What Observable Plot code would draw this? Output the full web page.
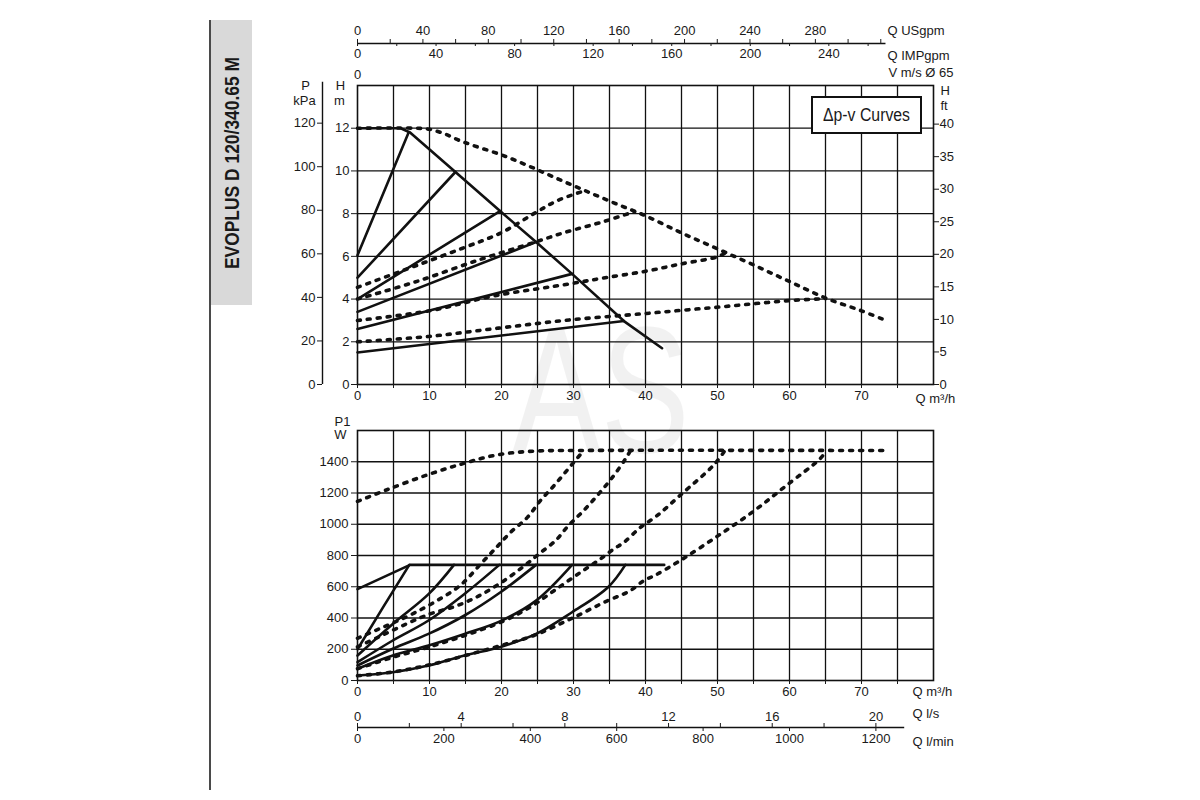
<!DOCTYPE html>
<html>
<head>
<meta charset="utf-8">
<script src="https://cdn.jsdelivr.net/npm/d3@7"></script>
<script src="https://cdn.jsdelivr.net/npm/@observablehq/plot@0.6"></script>
<style>
  body { margin: 0; background: #fff; }
  #wrap { position: relative; width: 1200px; height: 800px; overflow: hidden; font-family: "Liberation Sans", Arial, sans-serif; color: #1a1a1a; }
  #wm { position: absolute; left: 512px; top: 300px; font: 180px "Liberation Sans", Arial, sans-serif; color: rgba(0,0,0,0.055); line-height: 1; transform: scaleX(0.74); transform-origin: 0 0; }
  #sideline { position: absolute; left: 209px; top: 20px; width: 2px; height: 770px; background: #4a4a4a; }
  #titlebox { position: absolute; left: 211px; top: 20px; width: 41px; height: 285px; background: #d9d9d9; overflow: hidden; }
  #title { position: absolute; left: 50%; top: 50%; white-space: nowrap; font: bold 21px "Liberation Sans", Arial, sans-serif; color: #1a1a1a; transform: translate(-50%, -50%) rotate(-90deg) scaleX(0.83); }
  #upper, #lower { position: absolute; left: 0; }
  #upper { top: 0; }
  #lower { top: 400px; }
  .abs { position: absolute; }
</style>
</head>
<body>
<div id="wrap">
  <div id="wm">AS</div>
  <div id="sideline"></div>
  <div id="titlebox"><div id="title">EVOPLUS D 120/340.65 M</div></div>
  <div id="upper"></div>
  <div id="lower"></div>
  <svg class="abs" style="left:810px;top:95px" width="114" height="40">
    <rect x="2" y="2" width="109" height="36" fill="#fff" stroke="#111" stroke-width="2"></rect>
    <text x="56.5" y="26" text-anchor="middle" font-family="Liberation Sans, Arial, sans-serif"
          font-size="18" fill="#1a1a1a" textLength="87" lengthAdjust="spacingAndGlyphs">Δp-v Curves</text>
  </svg>
</div>
<script>
// ---- unit conversions (secondary axes) ----
const KPA_PER_M = 9.80665, M_PER_FT = 0.3048;
const M3H_PER_USGPM = 0.227125, M3H_PER_IMPGPM = 0.272765;
const M3H_PER_LS = 3.6, M3H_PER_LMIN = 0.06;

// ---- tick values ----
const flowTicks = [0, 5, 10, 15, 20, 25, 30, 35, 40, 45, 50, 55, 60, 65, 70, 75];
const flowLabels = [0, 10, 20, 30, 40, 50, 60, 70];
const flowGrid = [5, 10, 15, 20, 25, 30, 35, 40, 45, 50, 55, 60, 65, 70, 75];
const headTicks = [0, 2, 4, 6, 8, 10, 12];
const headGrid = [2, 4, 6, 8, 10, 12];
const kPaTicks = [0, 20, 40, 60, 80, 100, 120];
const ftTicks = [0, 5, 10, 15, 20, 25, 30, 35, 40];
const usgpmTicks = [0, 20, 40, 60, 80, 100, 120, 140, 160, 180, 200, 220, 240, 260, 280, 300, 320];
const usgpmLabels = [0, 40, 80, 120, 160, 200, 240, 280];
const impgpmTicks = [0, 20, 40, 60, 80, 100, 120, 140, 160, 180, 200, 220, 240, 260];
const impgpmLabels = [0, 40, 80, 120, 160, 200, 240];
const velocityLabels = [0];
const powerTicks = [0, 200, 400, 600, 800, 1000, 1200, 1400];
const powerGrid = [200, 400, 600, 800, 1000, 1200, 1400];
const lsTicks = [0, 2, 4, 6, 8, 10, 12, 14, 16, 18, 20];
const lsLabels = [0, 4, 8, 12, 16, 20];
const lminTicks = [0, 200, 400, 600, 800, 1000, 1200];

// ---- Δp-v head curves: [Q m³/h, H m] ----
const headMaxSolid = [[0, 12], [6, 12], [7.3, 11.8], [13.6, 9.95], [19.8, 8.12], [24.8, 6.67], [29.8, 5.18], [37, 2.97], [42.3, 1.7]];
const headSolid1 = [[0, 6.05], [7.1, 11.8]];
const headSolid2 = [[0, 5.0], [13.6, 9.95]];
const headSolid3 = [[0, 4.0], [19.8, 8.12]];
const headSolid4 = [[0, 3.4], [24.8, 6.67]];
const headSolid5 = [[0, 2.6], [29.8, 5.18]];
const headSolid6 = [[0, 1.5], [37, 2.97]];
const headMaxDotted = [[0, 12], [8, 12], [10, 11.95], [12, 11.75], [14, 11.45], [16, 11.2], [20, 10.75], [24, 10.2], [28, 9.6], [32, 9.02], [36, 8.45], [40, 7.9], [45, 7.1], [50, 6.35], [55, 5.6], [60, 4.82], [65, 4.05], [70, 3.45], [73, 3.05]];
const headDotted1 = [[0, 4.55], [6, 5.3], [14.5, 6.37], [20.1, 7.13], [24.5, 8.0], [27.7, 8.6], [31.7, 9.09]];
const headDotted2 = [[0, 4.0], [8, 4.8], [17, 5.85], [24.5, 6.65], [28.6, 7.1], [34.4, 7.65], [38.5, 8.1]];
const headDotted3 = [[0, 3.0], [10, 3.45], [19, 4.15], [29.6, 4.72], [34.4, 5.0], [40, 5.3], [45, 5.65], [50, 5.98], [51.3, 6.2]];
const headDotted4 = [[0, 2.0], [9.9, 2.25], [19.6, 2.64], [29.6, 3.03], [39.5, 3.31], [44.9, 3.47], [50, 3.62], [55, 3.78], [60, 3.93], [65, 4.02]];

// ---- P1 power curves: [Q m³/h, W] ----
const powerMaxSolid = [[0, 585], [7.3, 740], [42.6, 740]];
const powerSolid1 = [[0, 200], [3.5, 465], [7.2, 740]];
const powerSolid2 = [[0, 160], [4.9, 362], [9.9, 554], [13.4, 740]];
const powerSolid3 = [[0, 117], [4.9, 256], [9.86, 384], [14.86, 554], [19.7, 740]];
const powerSolid4 = [[0, 96], [4.9, 203], [9.86, 298], [14.86, 416], [19.86, 565], [24.8, 740]];
const powerSolid5 = [[0, 75], [4.9, 160], [9.86, 224], [14.86, 298], [19.86, 380], [24.8, 511], [29.8, 740]];
const powerSolid6 = [[0, 32], [4.9, 53], [9.86, 96], [14.86, 160], [19.86, 215], [24.8, 298], [29.8, 437], [34.8, 597], [37.2, 740]];
const powerMaxDotted = [[0, 1146], [4.1, 1221], [9.7, 1316], [14.8, 1390], [19.4, 1444], [24.5, 1468], [30, 1472], [73, 1472]];
const powerDotted1 = [[0, 270], [2.5, 320], [5, 370], [7.8, 430], [11, 510], [14.3, 610], [17.3, 755], [19.4, 857], [21.25, 948], [23.6, 1044], [25.4, 1151], [27.5, 1258], [30.3, 1411], [31.4, 1470]];
const powerDotted2 = [[0, 215], [3, 280], [6.7, 360], [10, 425], [13.6, 475], [16.8, 540], [19.9, 625], [22.9, 724], [25.2, 810], [27.5, 895], [29.3, 991], [31.4, 1087], [33.5, 1194], [35.4, 1300], [37.2, 1417], [37.9, 1470]];
const powerDotted3 = [[0, 75], [5, 150], [10, 215], [15, 290], [20, 375], [24, 470], [27.3, 575], [31, 693], [33.5, 770], [35.6, 842], [37, 884], [39.3, 980], [41.6, 1055], [44.9, 1189], [49.5, 1380], [51, 1470]];
const powerDotted4 = [[0, 30], [5, 55], [10, 100], [15, 160], [20, 225], [24.5, 288], [29.6, 394], [34.7, 510], [37.7, 570], [39.8, 640], [41.4, 675], [44.9, 770], [50, 924], [55, 1083], [59.4, 1242], [64.3, 1422], [65.1, 1470]];

// ---- helpers ----
const table = (series) => series.flatMap(([id, pts]) => pts.map(([q, v]) => ({id, q, v})));
const minor = (all, labeled) => all.filter(t => !labeled.includes(t));
const INK = "#111";
const solidStyle = {x: "q", y: "v", z: "id", stroke: INK, strokeWidth: 2.6, strokeLinejoin: "round"};
const dotStyle = {x: "q", y: "v", z: "id", stroke: INK, strokeWidth: 3.6, strokeDasharray: "3 7", curve: "catmull-rom"};
const gridStyle = {stroke: INK, strokeOpacity: 1, strokeWidth: 1.3};
const txt = (s, o) => Plot.text([s], {text: d => d, fill: "#1a1a1a", lineAnchor: "middle", textAnchor: "middle", ...o});
const baseStyle = {background: "transparent", fontFamily: "'Liberation Sans', Arial, sans-serif", fontSize: "13px", color: "#1a1a1a", overflow: "visible"};

const headSolid = table([["max", headMaxSolid], ["s1", headSolid1], ["s2", headSolid2], ["s3", headSolid3], ["s4", headSolid4], ["s5", headSolid5], ["s6", headSolid6]]);
const headDotted = table([["max", headMaxDotted], ["d1", headDotted1], ["d2", headDotted2], ["d3", headDotted3], ["d4", headDotted4]]);
const powerStraight = table([["max", powerMaxSolid], ["p1", powerSolid1]]);
const powerSolid = table([["p2", powerSolid2], ["p3", powerSolid3], ["p4", powerSolid4], ["p5", powerSolid5], ["p6", powerSolid6]]);
const powerDotted = table([["max", powerMaxDotted], ["q1", powerDotted1], ["q2", powerDotted2], ["q3", powerDotted3], ["q4", powerDotted4]]);

// ---- upper chart: head ----
const upper = Plot.plot({
  width: 1200, height: 400,
  marginLeft: 357, marginRight: 267, marginTop: 85, marginBottom: 16,
  x: {domain: [0, 80], axis: null, label: null},
  y: {domain: [0, 14], axis: null, label: null},
  style: baseStyle,
  marks: [
    Plot.gridX(flowGrid, gridStyle),
    Plot.gridY(headGrid, gridStyle),
    Plot.frame({stroke: INK, strokeWidth: 1.6}),
    Plot.axisX(flowLabels, {anchor: "bottom", tickSize: 4, tickPadding: 2, tickFormat: String, label: null}),
    Plot.axisX(minor(flowTicks, flowLabels), {anchor: "bottom", tickSize: 4, fill: "none", label: null}),
    Plot.axisY(headTicks, {anchor: "left", tickSize: 6, tickPadding: 2, tickFormat: String, label: null}),
    Plot.axisY(kPaTicks.map(p => p / KPA_PER_M), {anchor: "left", dx: -35, tickSize: 5, tickPadding: 2, tickFormat: d => String(Math.round(d * KPA_PER_M)), label: null}),
    Plot.ruleX([0], {y1: 0, y2: 14.15, dx: -35, stroke: INK, strokeWidth: 1.4}),
    Plot.axisY(ftTicks.map(f => f * M_PER_FT), {anchor: "right", tickSize: 5, tickPadding: 1, tickFormat: d => String(Math.round(d / M_PER_FT)), label: null}),
    Plot.ruleY([14], {x1: 0, x2: 73.4, dy: -42, stroke: INK, strokeWidth: 1.4}),
    Plot.axisX(usgpmLabels.map(u => u * M3H_PER_USGPM), {anchor: "top", dy: -42, tickSize: 5, tickPadding: 4,
      tickFormat: d => String(Math.round(d / M3H_PER_USGPM)), label: null}),
    Plot.axisX(minor(usgpmTicks, usgpmLabels).map(u => u * M3H_PER_USGPM), {anchor: "top", dy: -42, tickSize: 5, fill: "none", label: null}),
    Plot.axisX(impgpmLabels.map(u => u * M3H_PER_IMPGPM), {anchor: "bottom", dy: -341, tickSize: 3, tickPadding: 2,
      tickFormat: d => String(Math.round(d / M3H_PER_IMPGPM)), label: null}),
    Plot.axisX(minor(impgpmTicks, impgpmLabels).map(u => u * M3H_PER_IMPGPM), {anchor: "bottom", dy: -341, tickSize: 3, fill: "none", label: null}),
    Plot.axisX(velocityLabels, {anchor: "top", dy: -5, tickSize: 0, tickPadding: 2, tickFormat: String, label: null}),
    txt("Q USgpm", {frameAnchor: "top-right", textAnchor: "start", dx: -46, dy: -55}),
    txt("Q IMPgpm", {frameAnchor: "top-right", textAnchor: "start", dx: -46, dy: -30}),
    txt("V m/s Ø 65", {frameAnchor: "top-right", textAnchor: "start", dx: -45, dy: -13}),
    txt("H", {frameAnchor: "top-right", textAnchor: "start", dx: 7, dy: 5}),
    txt("ft", {frameAnchor: "top-right", textAnchor: "start", dx: 7, dy: 20}),
    txt("P", {frameAnchor: "top-left", dx: -52, dy: 0}),
    txt("kPa", {frameAnchor: "top-left", dx: -53, dy: 15}),
    txt("H", {frameAnchor: "top-left", dx: -17, dy: 0}),
    txt("m", {frameAnchor: "top-left", dx: -18, dy: 15}),
    txt("Q m³/h", {frameAnchor: "bottom-right", textAnchor: "start", dx: -18, dy: 14}),
    Plot.line(headSolid, solidStyle),
    Plot.line(headDotted, dotStyle)
  ]
});
document.getElementById("upper").append(upper);

// ---- lower chart: P1 power ----
const lower = Plot.plot({
  width: 1200, height: 380,
  marginLeft: 357, marginRight: 267, marginTop: 30, marginBottom: 100,
  x: {domain: [0, 80], axis: null, label: null},
  y: {domain: [0, 1600], axis: null, label: null},
  style: baseStyle,
  marks: [
    Plot.gridX(flowGrid, gridStyle),
    Plot.gridY(powerGrid, gridStyle),
    Plot.frame({stroke: INK, strokeWidth: 1.6}),
    Plot.axisX(flowLabels, {anchor: "bottom", tickSize: 4, tickPadding: 2, tickFormat: String, label: null}),
    Plot.axisX(minor(flowTicks, flowLabels), {anchor: "bottom", tickSize: 4, fill: "none", label: null}),
    Plot.axisY(powerTicks, {anchor: "left", tickSize: 6, tickPadding: 3, tickFormat: String, label: null}),
    Plot.ruleY([0], {x1: 0, x2: 76, dy: 47, stroke: INK, strokeWidth: 1.4}),
    Plot.axisX(lsLabels.map(v => v * M3H_PER_LS), {anchor: "top", dy: 297, tickSize: 5, tickPadding: 2,
      tickFormat: d => String(Math.round(d / M3H_PER_LS)), label: null}),
    Plot.axisX(minor(lsTicks, lsLabels).map(v => v * M3H_PER_LS), {anchor: "top", dy: 297, tickSize: 5, fill: "none", label: null}),
    Plot.axisX(lminTicks.map(v => v * M3H_PER_LMIN), {anchor: "bottom", dy: 47, tickSize: 4, tickPadding: 2,
      tickFormat: d => String(Math.round(d / M3H_PER_LMIN)), label: null}),
    txt("P1", {frameAnchor: "top-left", dx: -15, dy: -9}),
    txt("W", {frameAnchor: "top-left", dx: -17, dy: 4}),
    txt("Q m³/h", {frameAnchor: "bottom-right", textAnchor: "start", dx: -21, dy: 11}),
    txt("Q l/s", {frameAnchor: "bottom-right", textAnchor: "start", dx: -21, dy: 33}),
    txt("Q l/min", {frameAnchor: "bottom-right", textAnchor: "start", dx: -21, dy: 61}),
    Plot.line(powerStraight, solidStyle),
    Plot.line(powerSolid, {...solidStyle, curve: "catmull-rom"}),
    Plot.line(powerDotted, dotStyle)
  ]
});
document.getElementById("lower").append(lower);
</script>
</body>
</html>
